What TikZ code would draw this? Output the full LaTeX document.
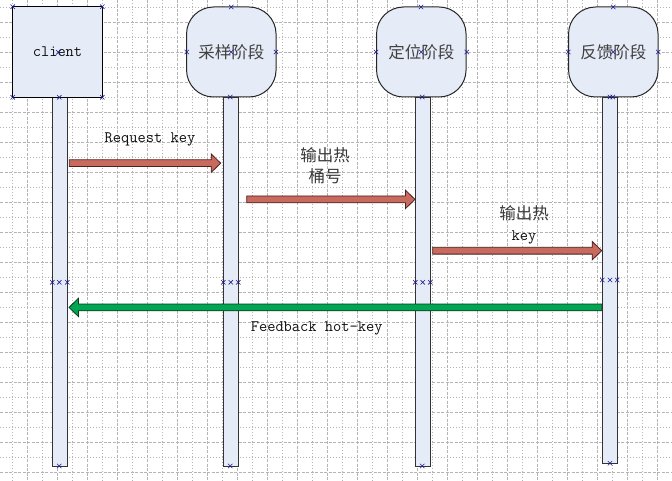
\documentclass[tikz,border=0pt]{standalone}
\usepackage{fontspec}
\newfontfamily\cjk{Noto Sans CJK SC}
\usetikzlibrary{calc}
\definecolor{boxfill}{HTML}{E6ECF7}
\definecolor{gridc}{HTML}{B4B4B4}
\definecolor{redf}{HTML}{C96A5F}
\definecolor{redd}{HTML}{4A2020}
\definecolor{greenf}{HTML}{00A651}
\definecolor{greend}{HTML}{0A3A1A}
\definecolor{mkc}{HTML}{1A1A8C}
\definecolor{txt}{HTML}{101010}
\newcommand\rarrow[3]{\draw[#1] ($(#2)+(0,-3.4)$) -- ($(#3)+(-9.5,-3.4)$) -- ($(#3)+(-9.5,-9.2)$) -- (#3) -- ($(#3)+(-9.5,9.2)$) -- ($(#3)+(-9.5,3.4)$) -- ($(#2)+(0,3.4)$) -- cycle;}
\newcommand\larrow[3]{\draw[#1] ($(#2)+(0,-3.4)$) -- ($(#3)+(9.5,-3.4)$) -- ($(#3)+(9.5,-9.2)$) -- (#3) -- ($(#3)+(9.5,9.2)$) -- ($(#3)+(9.5,3.4)$) -- ($(#2)+(0,3.4)$) -- cycle;}
\newcommand\mk[1]{\draw[mkc,line width=0.6pt] (#1) +(-2.2,-2.2) -- +(2.2,2.2) +(-2.2,2.2) -- +(2.2,-2.2);}
\tikzset{
  minorgrid/.style={gridc,line width=0.6pt,dash pattern=on 1pt off 2pt},
  majorgrid/.style={gridc,line width=0.6pt,dash pattern=on 3pt off 1.5pt},
  sqbox/.style={draw=black,line width=1pt,fill=boxfill,minimum width=89.6pt,minimum height=90.6pt,inner sep=0pt,
     font=\fontsize{16}{20}\selectfont\ttfamily,text=txt},
  rbox/.style={draw=black!85,line width=1pt,fill=boxfill,rounded corners=27pt,minimum width=89.5pt,minimum height=90pt,inner sep=0pt,
     font=\fontsize{16.5}{21}\selectfont\cjk,text=black!75},
  life/.style={draw=black!80,line width=1pt,fill=boxfill,minimum width=15pt,inner sep=0pt,anchor=north},
  redarrow/.style={fill=redf,draw=redd,line width=0.8pt},
  greenarrow/.style={fill=greenf,draw=greend,line width=0.8pt},
  lbl/.style={font=\fontsize{16}{20}\selectfont\ttfamily,text=txt,inner sep=0pt},
  cjklbl/.style={font=\fontsize{16.5}{21}\selectfont,text=black!78,inner sep=0pt,align=center},
}
\begin{document}
\begin{tikzpicture}[x=1pt,y=-1pt]
\useasboundingbox[fill=white] (0,0) rectangle (672,481);
% grid
\foreach \x in {12.3,42.3,...,672} \draw[minorgrid] (\x,0) -- (\x,481);
\foreach \x in {27.3,57.3,...,672} \draw[majorgrid] (\x,0) -- (\x,481);
\foreach \y in {7.3,37.3,...,481} \draw[minorgrid] (0,\y) -- (672,\y);
\foreach \y in {22.3,52.3,...,481} \draw[majorgrid] (0,\y) -- (672,\y);
% lifelines
\node[life,minimum height=369pt] (L1) at (59.8,97) {};
\node[life,minimum height=369pt] (L2) at (230.8,97) {};
\node[life,minimum height=369pt] (L3) at (422.8,97) {};
\node[life,minimum height=366pt] (L4) at (610.2,97) {};
% heads
\node[sqbox] (client) at (57.5,52) {client};
\node[rbox] (cy) at (231.3,52) {采样阶段};
\node[rbox] (dw) at (421.3,52) {定位阶段};
\node[rbox] (fk) at (613.3,52) {反馈阶段};
% arrow ends
\coordinate (a1s) at (69.3,163.2);
\coordinate (a1e) at (220.7,163.2);
\coordinate (a2s) at (246.7,199.4);
\coordinate (a2e) at (415,199.4);
\coordinate (a3s) at (432.7,250.7);
\coordinate (a3e) at (601.7,250.7);
\coordinate (a4s) at (601.7,307.4);
\coordinate (a4e) at (69,307.4);
\rarrow{redarrow}{a1s}{a1e}
\rarrow{redarrow}{a2s}{a2e}
\rarrow{redarrow}{a3s}{a3e}
\larrow{greenarrow}{a4s}{a4e}
% labels
\node[lbl] (t1) at (150,139) {Request key};
\node[cjklbl] (t2) at (325,166) {\cjk 输出热\\\cjk 桶号};
\node[cjklbl] (t3) at (524,225) {\cjk 输出热\\\fontsize{16}{20}\selectfont\ttfamily\color{txt} key};
\node[lbl] (t4) at (316.7,328) {Feedback hot-key};
% connection markers
\foreach \p in {{12.7,6.7},{102.3,6.7},{12.7,97.3},{102.3,97.3},{58.3,52.3},{59.3,97.3},
  {231.3,7},{186.7,52},{276,52},{231.3,52},{230.3,97},
  {421,7},{376,52},{466.7,52},{421.3,52},{422.3,97},
  {613.3,7},{568.3,52},{658.3,52},{613.3,52},{610,97},{612.7,97},
  {52.3,282.3},{59.3,282.3},{67.3,282.3},{59.3,466},
  {223.3,282.3},{230.8,282.3},{238.3,282.3},{230.3,466},
  {415.3,282.3},{422.7,282.3},{430.3,282.3},{422.3,466},
  {602.3,280},{610,280},{617.3,280},{610,463.3}}
  {\mk{\p}}
\end{tikzpicture}
\end{document}
